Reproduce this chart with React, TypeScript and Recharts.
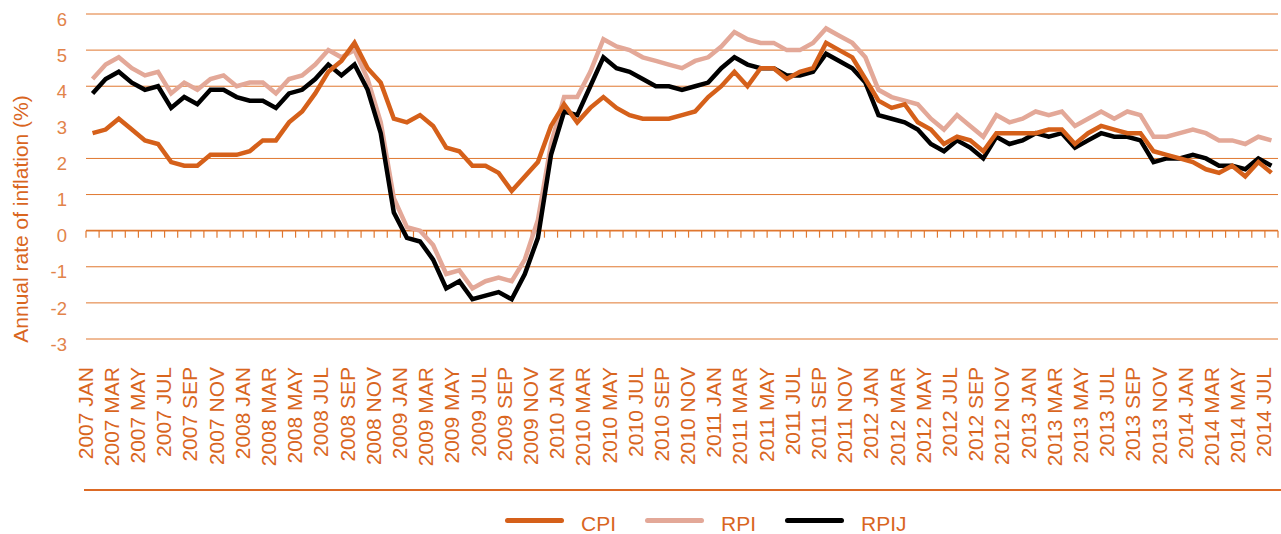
import React from 'react';
import { LineChart, Line, XAxis, YAxis, ReferenceLine, Legend } from 'recharts';

const years = [2007, 2008, 2009, 2010, 2011, 2012, 2013, 2014];
const monthNames = ['JAN', 'FEB', 'MAR', 'APR', 'MAY', 'JUN', 'JUL', 'AUG', 'SEP', 'OCT', 'NOV', 'DEC'];
const lastMonthCount = 7; // 2014 ends in JUL

const cpi = [
  2.7, 2.8, 3.1, 2.8, 2.5, 2.4, 1.9, 1.8, 1.8, 2.1, 2.1, 2.1,
  2.2, 2.5, 2.5, 3.0, 3.3, 3.8, 4.4, 4.7, 5.2, 4.5, 4.1, 3.1,
  3.0, 3.2, 2.9, 2.3, 2.2, 1.8, 1.8, 1.6, 1.1, 1.5, 1.9, 2.9,
  3.5, 3.0, 3.4, 3.7, 3.4, 3.2, 3.1, 3.1, 3.1, 3.2, 3.3, 3.7,
  4.0, 4.4, 4.0, 4.5, 4.5, 4.2, 4.4, 4.5, 5.2, 5.0, 4.8, 4.2,
  3.6, 3.4, 3.5, 3.0, 2.8, 2.4, 2.6, 2.5, 2.2, 2.7, 2.7, 2.7,
  2.7, 2.8, 2.8, 2.4, 2.7, 2.9, 2.8, 2.7, 2.7, 2.2, 2.1, 2.0,
  1.9, 1.7, 1.6, 1.8, 1.5, 1.9, 1.6,
];

const rpi = [
  4.2, 4.6, 4.8, 4.5, 4.3, 4.4, 3.8, 4.1, 3.9, 4.2, 4.3, 4.0,
  4.1, 4.1, 3.8, 4.2, 4.3, 4.6, 5.0, 4.8, 5.0, 4.2, 3.0, 0.9,
  0.1, 0.0, -0.4, -1.2, -1.1, -1.6, -1.4, -1.3, -1.4, -0.8, 0.3, 2.4,
  3.7, 3.7, 4.4, 5.3, 5.1, 5.0, 4.8, 4.7, 4.6, 4.5, 4.7, 4.8,
  5.1, 5.5, 5.3, 5.2, 5.2, 5.0, 5.0, 5.2, 5.6, 5.4, 5.2, 4.8,
  3.9, 3.7, 3.6, 3.5, 3.1, 2.8, 3.2, 2.9, 2.6, 3.2, 3.0, 3.1,
  3.3, 3.2, 3.3, 2.9, 3.1, 3.3, 3.1, 3.3, 3.2, 2.6, 2.6, 2.7,
  2.8, 2.7, 2.5, 2.5, 2.4, 2.6, 2.5,
];

const rpij = [
  3.8, 4.2, 4.4, 4.1, 3.9, 4.0, 3.4, 3.7, 3.5, 3.9, 3.9, 3.7,
  3.6, 3.6, 3.4, 3.8, 3.9, 4.2, 4.6, 4.3, 4.6, 3.9, 2.7, 0.5,
  -0.2, -0.3, -0.8, -1.6, -1.4, -1.9, -1.8, -1.7, -1.9, -1.2, -0.2, 2.1,
  3.3, 3.2, 4.0, 4.8, 4.5, 4.4, 4.2, 4.0, 4.0, 3.9, 4.0, 4.1,
  4.5, 4.8, 4.6, 4.5, 4.5, 4.3, 4.3, 4.4, 4.9, 4.7, 4.5, 4.1,
  3.2, 3.1, 3.0, 2.8, 2.4, 2.2, 2.5, 2.3, 2.0, 2.6, 2.4, 2.5,
  2.7, 2.6, 2.7, 2.3, 2.5, 2.7, 2.6, 2.6, 2.5, 1.9, 2.0, 2.0,
  2.1, 2.0, 1.8, 1.8, 1.7, 2.0, 1.8,
];

const yTicks = [-3, -2, -1, 0, 1, 2, 3, 4, 5, 6];
const gridValues = [6, 5, 4, 2, 1, -1, -2, -3];

const months: string[] = [];
years.forEach((yr, yi) => {
  const count = yi === years.length - 1 ? lastMonthCount : 12;
  for (let m = 0; m < count; m++) months.push(`${yr} ${monthNames[m]}`);
});

const data = months.map((month, i) => ({
  month,
  CPI: cpi[i],
  RPI: rpi[i],
  RPIJ: rpij[i],
}));

const FONT = '"Liberation Sans", Arial, Helvetica, sans-serif';
const TEXT = '#D9661F';
const GRID = '#E0772F';
const CPI_C = '#D5601A';
const RPI_C = '#E3A898';
const RPIJ_C = '#000000';

const legendItems = [
  { key: 'CPI', color: CPI_C },
  { key: 'RPI', color: RPI_C },
  { key: 'RPIJ', color: RPIJ_C },
];

const XTick = (props: any) => {
  const { x, y, payload } = props;
  const ty = y + 28;
  return (
    <text
      x={x}
      y={ty}
      transform={`rotate(-90 ${x} ${ty})`}
      textAnchor="end"
      fill={TEXT}
      fontSize={21}
      fontFamily={FONT}
    >
      {payload.value}
    </text>
  );
};

const YTick = (props: any) => {
  const { x, y, payload } = props;
  return (
    <text
      x={x - 19}
      y={y + 5}
      dy="0.36em"
      textAnchor="end"
      fill="#E2834A"
      fontSize={18.5}
      fontFamily={FONT}
    >
      {payload.value}
    </text>
  );
};

const ZeroAxis = (props: any) => {
  const { x1, x2, y1 } = props;
  if (x1 == null || x2 == null || y1 == null) return null;
  const n = months.length;
  const step = (x2 - x1) / n;
  const ticks = [];
  for (let i = 0; i <= n; i++) {
    const tx = x1 + i * step;
    ticks.push(<line key={i} x1={tx} x2={tx} y1={y1} y2={y1 + 7} stroke={GRID} strokeWidth={1.2} />);
  }
  return (
    <g>
      <line x1={x1} x2={x2} y1={y1} y2={y1} stroke={GRID} strokeWidth={1.6} />
      {ticks}
    </g>
  );
};

const LegendBox = () => (
  <div style={{ position: 'relative', width: 1281, height: 47 }}>
    <div style={{ position: 'absolute', left: 84, right: 0, top: 2, height: 2, background: '#DC6A25' }} />
    {legendItems.map((it, i) => (
      <div
        key={it.key}
        style={{ position: 'absolute', left: 505 + i * 140, top: 22, height: 22, display: 'flex', alignItems: 'center' }}
      >
        <div style={{ width: 59, height: 5, borderRadius: 3, background: it.color }} />
        <span
          style={{
            marginLeft: 17,
            fontSize: 21,
            lineHeight: '22px',
            color: TEXT,
            fontFamily: FONT,
            position: 'relative',
            top: 4,
          }}
        >
          {it.key}
        </span>
      </div>
    ))}
  </div>
);

export default function App() {
  return (
    <div style={{ position: 'absolute', left: 0, top: 0, width: 1281, height: 534, background: '#fff' }}>
      <LineChart width={1281} height={534} data={data} margin={{ top: 14, right: 3, left: 0, bottom: 0 }}>
        {gridValues.map((v) => (
          <ReferenceLine key={v} y={v} stroke={GRID} strokeWidth={1} />
        ))}
        <ReferenceLine y={0} shape={ZeroAxis} />
        <XAxis
          dataKey="month"
          scale="band"
          interval={1}
          height={148}
          axisLine={false}
          tickLine={false}
          tickSize={0}
          tickMargin={0}
          tick={XTick}
        />
        <YAxis
          width={86}
          domain={[-3, 6]}
          ticks={yTicks}
          interval={0}
          axisLine={false}
          tickLine={false}
          tickSize={0}
          tickMargin={0}
          tick={YTick}
          label={{
            content: () => (
              <text
                x={20}
                y={219}
                transform="rotate(-90 20 219)"
                textAnchor="middle"
                dominantBaseline="central"
                fill={TEXT}
                fontSize={21}
                fontFamily={FONT}
              >
                Annual rate of inflation (%)
              </text>
            ),
          }}
        />
        <Legend verticalAlign="bottom" content={() => <LegendBox />} wrapperStyle={{ left: 0, bottom: 0, width: 1281, height: 47 }} />
        <Line type="linear" dataKey="RPI" stroke={RPI_C} strokeWidth={4.5} dot={false} activeDot={false} isAnimationActive={false} />
        <Line type="linear" dataKey="RPIJ" stroke={RPIJ_C} strokeWidth={4.5} dot={false} activeDot={false} isAnimationActive={false} />
        <Line type="linear" dataKey="CPI" stroke={CPI_C} strokeWidth={4.5} dot={false} activeDot={false} isAnimationActive={false} />
      </LineChart>
    </div>
  );
}
